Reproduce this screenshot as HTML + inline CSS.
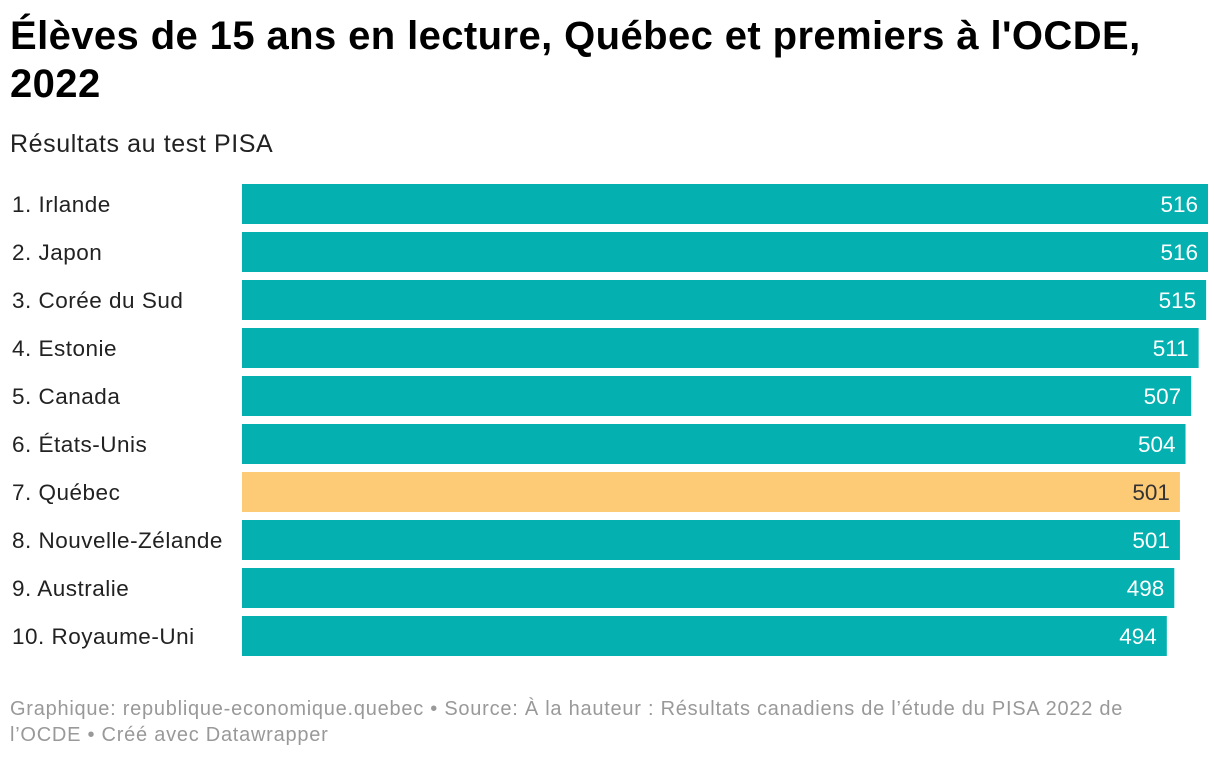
<!DOCTYPE html>
<html><head><meta charset="utf-8"><style>
body{margin:0;width:1220px;height:758px;background:#fff;font-family:"Liberation Sans",sans-serif;position:relative;overflow:hidden}
#title{position:absolute;left:10px;top:12px;width:1210px;font-size:40px;font-weight:bold;line-height:48px;color:#000;letter-spacing:0.4px;white-space:nowrap}
#sub{position:absolute;left:10px;top:130px;font-size:25px;color:#222;letter-spacing:0.6px}
#foot{position:absolute;left:10px;top:696px;width:1200px;font-size:20px;line-height:26px;color:#999;letter-spacing:0.75px;white-space:nowrap}
</style></head><body>
<div id="title">Élèves de 15 ans en lecture, Québec et premiers à l'OCDE,<br>2022</div>
<div id="sub">Résultats au test PISA</div>
<svg id="chart" width="1220" height="758" style="position:absolute;left:0;top:0"></svg>
<div id="foot">Graphique: republique-economique.quebec • Source: À la hauteur : Résultats canadiens de l’étude du PISA 2022 de<br>l’OCDE • Créé avec Datawrapper</div>
<script>
const categories=["1. Irlande","2. Japon","3. Corée du Sud","4. Estonie","5. Canada","6. États-Unis","7. Québec","8. Nouvelle-Zélande","9. Australie","10. Royaume-Uni"];
const values=[516,516,515,511,507,504,501,501,498,494];
const highlight=[false,false,false,false,false,false,true,false,false,false];
const svg=document.getElementById('chart');const NS='http://www.w3.org/2000/svg';
const x0=242,xMax=966,dmax=516;
const xs=v=>v/dmax*xMax;
const ys=i=>184+i*48;
categories.forEach((c,i)=>{
 const t=document.createElementNS(NS,'text');
 
 
 t.setAttribute('x',12);t.setAttribute('y',ys(i)+28);t.setAttribute('font-size','22.5');t.setAttribute('fill','#222');
 t.setAttribute('letter-spacing','0.5');
 t.textContent=c;svg.appendChild(t);
 const r=document.createElementNS(NS,'rect');
 
 
 r.setAttribute('x',x0);r.setAttribute('y',ys(i));r.setAttribute('width',xs(values[i]));r.setAttribute('height',40);
 r.setAttribute('fill',highlight[i]?'#fdca76':'#04b1b0');svg.appendChild(r);
 const v=document.createElementNS(NS,'text');
 
 
 v.setAttribute('x',x0+xs(values[i])-10);v.setAttribute('y',ys(i)+28);v.setAttribute('text-anchor','end');
 v.setAttribute('font-size','22.5');v.setAttribute('fill',highlight[i]?'#333':'#fff');
 v.textContent=values[i];svg.appendChild(v);
});
</script>
</body></html>
